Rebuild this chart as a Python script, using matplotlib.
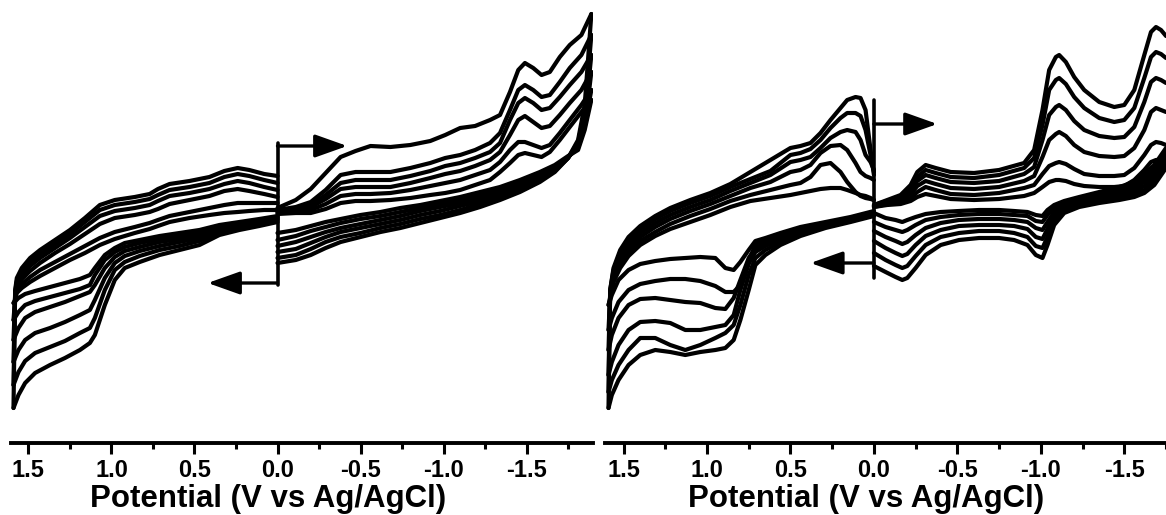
import matplotlib
matplotlib.use('Agg')
import matplotlib.pyplot as plt

plt.rcParams['font.family'] = ['Liberation Sans', 'DejaVu Sans']
plt.rcParams['font.weight'] = 'bold'
plt.rcParams['axes.unicode_minus'] = False

# ---- data (potential in V vs Ag/AgCl, current in arb. units) ----
tick_values = [1.5, 1.0, 0.5, 0.0, -0.5, -1.0, -1.5]
tick_labels = ['1.5', '1.0', '0.5', '0.0', '-0.5', '-1.0', '-1.5']
minor_values = [1.25, 0.75, 0.25, -0.25, -0.75, -1.25, -1.75]
x_label = 'Potential (V vs Ag/AgCl)'

# left panel: scan 0 -> negative (upper right), back to 0 (lower right)
left_v_neg_fwd = [0.00, -0.11, -0.20, -0.29, -0.38, -0.47, -0.56, -0.68, -0.80, -0.92, -1.01, -1.10, -1.19,
                  -1.28, -1.34, -1.40, -1.45, -1.49, -1.54, -1.59, -1.64, -1.70, -1.76, -1.83, -1.89]
left_i_neg_fwd = [
    [7, 15, 26, 42, 58, 64, 69, 68, 70, 74, 80, 87, 89, 95, 100, 123, 145, 152, 147, 140, 143, 158, 170, 180, 201],
    [5, 8, 13, 25, 40, 43, 43, 43, 47, 52, 57, 60, 65, 72, 82, 105, 125, 130, 125, 118, 120, 133, 147, 160, 180],
    [4, 7, 10, 20, 32, 35, 35, 35, 39, 44, 49, 52, 57, 63, 72, 95, 112, 117, 112, 105, 107, 118, 130, 143, 160],
    [3, 5, 8, 16, 26, 28, 28, 28, 32, 37, 41, 44, 49, 55, 63, 80, 95, 99, 93, 87, 89, 100, 112, 125, 143],
    [2, 3, 5, 11, 19, 21, 21, 22, 25, 29, 32, 35, 40, 45, 53, 65, 73, 73, 70, 67, 70, 82, 95, 110, 125],
    [1, 2, 2, 6, 12, 14, 14, 15, 17, 20, 22, 25, 30, 35, 43, 52, 60, 62, 60, 58, 63, 75, 88, 103, 115],
]
left_v_neg_rev = [-1.89, -1.87, -1.85, -1.81, -1.75, -1.67, -1.58, -1.46, -1.34, -1.22, -1.10, -0.98, -0.86,
                  -0.74, -0.62, -0.50, -0.38, -0.29, -0.20, -0.11, 0.00]
left_i_neg_rev = [
    [201, 155, 110, 75, 57, 43, 33, 23, 15, 8, 2, -3, -8, -13, -17, -22, -27, -33, -40, -45, -48],
    [180, 140, 103, 73, 57, 44, 35, 25, 18, 11, 5, 0, -4, -9, -13, -18, -22, -27, -34, -40, -43],
    [160, 127, 97, 71, 57, 45, 37, 27, 20, 14, 9, 4, 0, -5, -9, -13, -17, -22, -28, -34, -37],
    [143, 115, 92, 69, 58, 47, 39, 30, 23, 17, 12, 8, 4, -1, -5, -9, -13, -17, -22, -27, -31],
    [125, 107, 88, 67, 58, 48, 41, 33, 26, 20, 15, 11, 7, 3, -1, -4, -8, -12, -16, -21, -25],
    [115, 100, 85, 65, 59, 50, 43, 35, 28, 23, 18, 14, 10, 7, 3, 0, -4, -7, -11, -15, -18],
]
# left panel: scan 0 -> positive (lower left), back to 0 (upper left)
left_v_pos_fwd = [0.00, 0.11, 0.23, 0.35, 0.47, 0.59, 0.71, 0.83, 0.92, 0.98, 1.04, 1.10, 1.13, 1.19, 1.28,
                  1.37, 1.46, 1.52, 1.56, 1.59]
left_i_pos_fwd = [
    [-7, -11, -15, -20, -30, -35, -40, -47, -53, -65, -90, -120, -128, -135, -143, -150, -158, -168, -180, -193],
    [-5, -9, -13, -17, -26, -31, -35, -41, -47, -55, -75, -103, -113, -118, -126, -132, -138, -146, -157, -170],
    [-4, -7, -11, -15, -23, -27, -31, -36, -41, -48, -63, -85, -95, -100, -107, -113, -118, -125, -135, -147],
    [-3, -6, -9, -13, -20, -24, -27, -32, -36, -42, -53, -70, -77, -81, -87, -92, -97, -103, -113, -125],
    [-2, -5, -8, -11, -17, -21, -24, -28, -32, -37, -45, -60, -70, -74, -78, -82, -86, -90, -97, -105],
    [-1, -4, -7, -10, -15, -18, -21, -25, -28, -33, -40, -53, -60, -64, -68, -72, -76, -79, -83, -88],
]
left_v_pos_rev = [1.59, 1.58, 1.57, 1.54, 1.49, 1.43, 1.34, 1.25, 1.16, 1.07, 0.98, 0.86, 0.77, 0.72, 0.65,
                  0.53, 0.41, 0.32, 0.24, 0.17, 0.08, 0.00]
left_i_pos_rev = [
    [-193, -75, -63, -53, -43, -35, -25, -15, -3, 10, 15, 18, 21, 26, 31, 34, 38, 44, 47, 45, 41, 39],
    [-170, -77, -66, -56, -47, -39, -29, -19, -7, 5, 10, 13, 16, 20, 25, 28, 32, 38, 41, 39, 35, 32],
    [-147, -79, -69, -60, -51, -43, -33, -23, -12, -1, 4, 7, 10, 14, 19, 22, 26, 31, 34, 32, 28, 25],
    [-125, -81, -72, -64, -56, -48, -38, -29, -19, -9, -3, 0, 3, 6, 11, 15, 19, 24, 26, 24, 21, 18],
    [-105, -83, -75, -69, -62, -55, -47, -39, -31, -23, -17, -12, -8, -5, -1, 3, 7, 10, 12, 12, 12, 12],
    [-88, -85, -78, -73, -67, -61, -53, -45, -38, -30, -24, -18, -14, -11, -7, -3, 0, 2, 3, 4, 5, 5],
]

# right panel: scan 0 -> negative (upper right), back to 0 (lower right)
right_v_neg_fwd = [0.00, -0.08, -0.16, -0.22, -0.26, -0.31, -0.37, -0.46, -0.60, -0.75, -0.90, -0.96, -1.01,
                   -1.05, -1.09, -1.11, -1.15, -1.20, -1.26, -1.35, -1.44, -1.50, -1.56, -1.62, -1.66, -1.69,
                   -1.72, -1.75]
right_i_neg_fwd = [
    [10, 15, 20, 30, 43, 50, 47, 43, 42, 45, 52, 65, 105, 145, 158, 160, 153, 138, 125, 113, 108, 110, 125, 160,
     183, 188, 185, 179],
    [10, 14, 18, 27, 38, 45, 42, 38, 37, 40, 47, 57, 90, 125, 135, 137, 131, 118, 107, 97, 93, 95, 107, 137,
     158, 163, 161, 157],
    [9, 13, 17, 24, 34, 40, 37, 33, 32, 34, 41, 48, 75, 100, 108, 110, 105, 94, 85, 79, 77, 78, 88, 113,
     133, 137, 135, 132],
    [9, 12, 15, 21, 29, 34, 31, 27, 26, 28, 34, 39, 58, 75, 81, 83, 79, 70, 63, 59, 58, 59, 67, 85,
     103, 107, 105, 103],
    [8, 11, 13, 17, 23, 28, 25, 21, 20, 22, 27, 30, 41, 49, 52, 53, 51, 46, 41, 39, 39, 40, 47, 60,
     70, 73, 72, 70],
    [8, 10, 11, 14, 18, 21, 19, 16, 15, 16, 19, 22, 28, 33, 35, 35, 34, 31, 29, 28, 28, 29, 35, 45,
     53, 55, 55, 54],
]
right_v_neg_rev = [-1.75, -1.68, -1.62, -1.56, -1.47, -1.35, -1.23, -1.14, -1.08, -1.04, -1.01, -0.97, -0.92,
                   -0.84, -0.75, -0.63, -0.51, -0.40, -0.31, -0.25, -0.20, -0.17, -0.13, -0.07, 0.00]
right_i_neg_rev = [
    [47, 30, 22, 18, 15, 12, 8, 2, -10, -30, -43, -40, -30, -25, -23, -23, -25, -30, -40, -53, -63, -65, -62, -57, -51],
    [51, 34, 25, 21, 17, 14, 10, 5, -5, -22, -33, -31, -22, -18, -16, -16, -18, -22, -30, -41, -51, -53, -50, -45, -38],
    [55, 38, 29, 24, 20, 16, 12, 7, -1, -14, -24, -22, -14, -11, -10, -10, -11, -15, -21, -30, -39, -41, -38, -33, -26],
    [59, 42, 33, 27, 23, 18, 14, 10, 3, -7, -15, -13, -7, -5, -4, -4, -5, -8, -13, -20, -27, -29, -26, -22, -16],
    [63, 46, 37, 30, 25, 20, 16, 12, 7, 0, -7, -6, -1, 0, 1, 1, 0, -2, -5, -10, -15, -17, -15, -12, -7],
    [67, 50, 41, 33, 28, 23, 18, 14, 10, 5, -1, 0, 3, 4, 5, 5, 4, 3, 1, -2, -5, -7, -5, -3, 2],
]
# right panel: scan 0 -> positive (lower left), back to 0 (upper left)
right_v_pos_fwd = [0.00, 0.14, 0.29, 0.44, 0.56, 0.65, 0.71, 0.75, 0.80, 0.84, 0.89, 0.95, 1.04, 1.13, 1.22,
                   1.31, 1.40, 1.47, 1.53, 1.57, 1.59]
right_i_pos_fwd = [
    [-1, -7, -13, -21, -30, -40, -50, -75, -105, -125, -133, -135, -137, -140, -137, -135, -140, -150, -165, -180, -193],
    [0, -6, -11, -19, -27, -35, -43, -60, -90, -110, -118, -123, -130, -135, -130, -123, -123, -135, -150, -165, -177],
    [1, -5, -10, -17, -24, -31, -37, -49, -75, -100, -110, -112, -115, -115, -108, -106, -107, -115, -130, -147, -160],
    [2, -4, -9, -15, -22, -28, -33, -43, -65, -83, -94, -93, -88, -87, -85, -83, -84, -90, -103, -120, -135],
    [3, -3, -8, -14, -20, -25, -29, -47, -70, -77, -77, -71, -66, -64, -64, -66, -69, -75, -87, -103, -115],
    [4, -2, -7, -12, -18, -23, -26, -35, -47, -55, -53, -43, -42, -43, -44, -46, -49, -55, -65, -80, -90],
]
right_v_pos_rev = [1.59, 1.58, 1.56, 1.52, 1.47, 1.40, 1.31, 1.22, 1.10, 0.98, 0.86, 0.74, 0.62, 0.50, 0.44,
                   0.38, 0.32, 0.26, 0.20, 0.16, 0.11, 0.08, 0.05, 0.02, 0.00]
right_i_pos_rev = [
    [-193, -75, -53, -35, -22, -11, -1, 7, 15, 22, 31, 43, 55, 67, 69, 72, 82, 95, 107, 115, 118, 117, 105, 65, 40],
    [-177, -75, -55, -38, -25, -14, -4, 4, 12, 19, 28, 36, 44, 60, 62, 66, 75, 87, 97, 102, 102, 99, 85, 60, 43],
    [-160, -77, -58, -42, -29, -18, -8, 0, 8, 15, 24, 32, 40, 53, 55, 58, 67, 77, 83, 85, 83, 75, 60, 53, 45],
    [-135, -79, -61, -45, -33, -22, -12, -4, 4, 11, 19, 27, 33, 43, 45, 50, 62, 69, 70, 65, 52, 43, 39, 37, 35],
    [-115, -81, -64, -49, -37, -26, -17, -9, -1, 6, 14, 20, 25, 30, 32, 38, 50, 52, 43, 33, 23, 19, 17, 16, 15],
    [-90, -83, -67, -53, -41, -30, -21, -14, -7, 0, 8, 14, 17, 20, 22, 24, 26, 27, 27, 25, 22, 20, 19, 17, 15],
]

# start marker at 0 V: vertical bar span and the two scan-direction arrows (current level, arrow tip potential)
left_bar = (72, -70)
left_arrows = [(69, -0.42), (-68, 0.42)]
right_bar = (115, -63)
right_arrows = [(91, -0.38), (-48, 0.38)]


def draw_panel(ax, branches, bar, arrows, xlim, label_x):
    for v, rows in branches:
        for i in rows:
            ax.plot(v, i, color='black', lw=3.0, solid_joinstyle='round', solid_capstyle='round')

    ax.plot([0, 0], bar, color='black', lw=2.6, solid_capstyle='round')
    for level, tip in arrows:
        ax.annotate('', xy=(tip, level), xytext=(0, level),
                    arrowprops=dict(arrowstyle='-|>,head_length=0.9,head_width=0.32', mutation_scale=22,
                                    lw=2.4, color='black', shrinkA=0, shrinkB=0))

    ax.set_xlim(*xlim)
    ax.set_ylim(-228, 215)
    for side in ['left', 'right', 'top']:
        ax.spines[side].set_visible(False)
    ax.spines['bottom'].set_linewidth(2.8)
    ax.set_yticks([])
    ax.set_xticks(tick_values)
    ax.set_xticklabels(tick_labels, fontsize=17, fontweight='bold')
    ax.set_xticks(minor_values, minor=True)
    ax.tick_params(axis='x', which='major', direction='out', length=8, width=2.2, pad=3.5)
    ax.tick_params(axis='x', which='minor', direction='out', length=4.5, width=2.2)
    ax.set_xlabel(x_label, fontsize=22.5, fontweight='bold')
    ax.xaxis.set_label_coords(label_x, -0.092)
    ax.patch.set_alpha(0)


fig = plt.figure(figsize=(11.66, 5.15), dpi=100)
ax_left = fig.add_axes([11 / 1166, 72 / 515, 582 / 1166, 443 / 515])
ax_right = fig.add_axes([605 / 1166, 72 / 515, 561 / 1166, 443 / 515])

draw_panel(ax_left,
           [(left_v_neg_fwd, left_i_neg_fwd), (left_v_neg_rev, left_i_neg_rev),
            (left_v_pos_fwd, left_i_pos_fwd), (left_v_pos_rev, left_i_pos_rev)],
           left_bar, left_arrows, (1.605, -1.90), 0.4416)
draw_panel(ax_right,
           [(right_v_neg_fwd, right_i_neg_fwd), (right_v_neg_rev, right_i_neg_rev),
            (right_v_pos_fwd, right_i_pos_fwd), (right_v_pos_rev, right_i_pos_rev)],
           right_bar, right_arrows, (1.611, -1.749), 0.465)

fig.savefig('out.png', dpi=100)
